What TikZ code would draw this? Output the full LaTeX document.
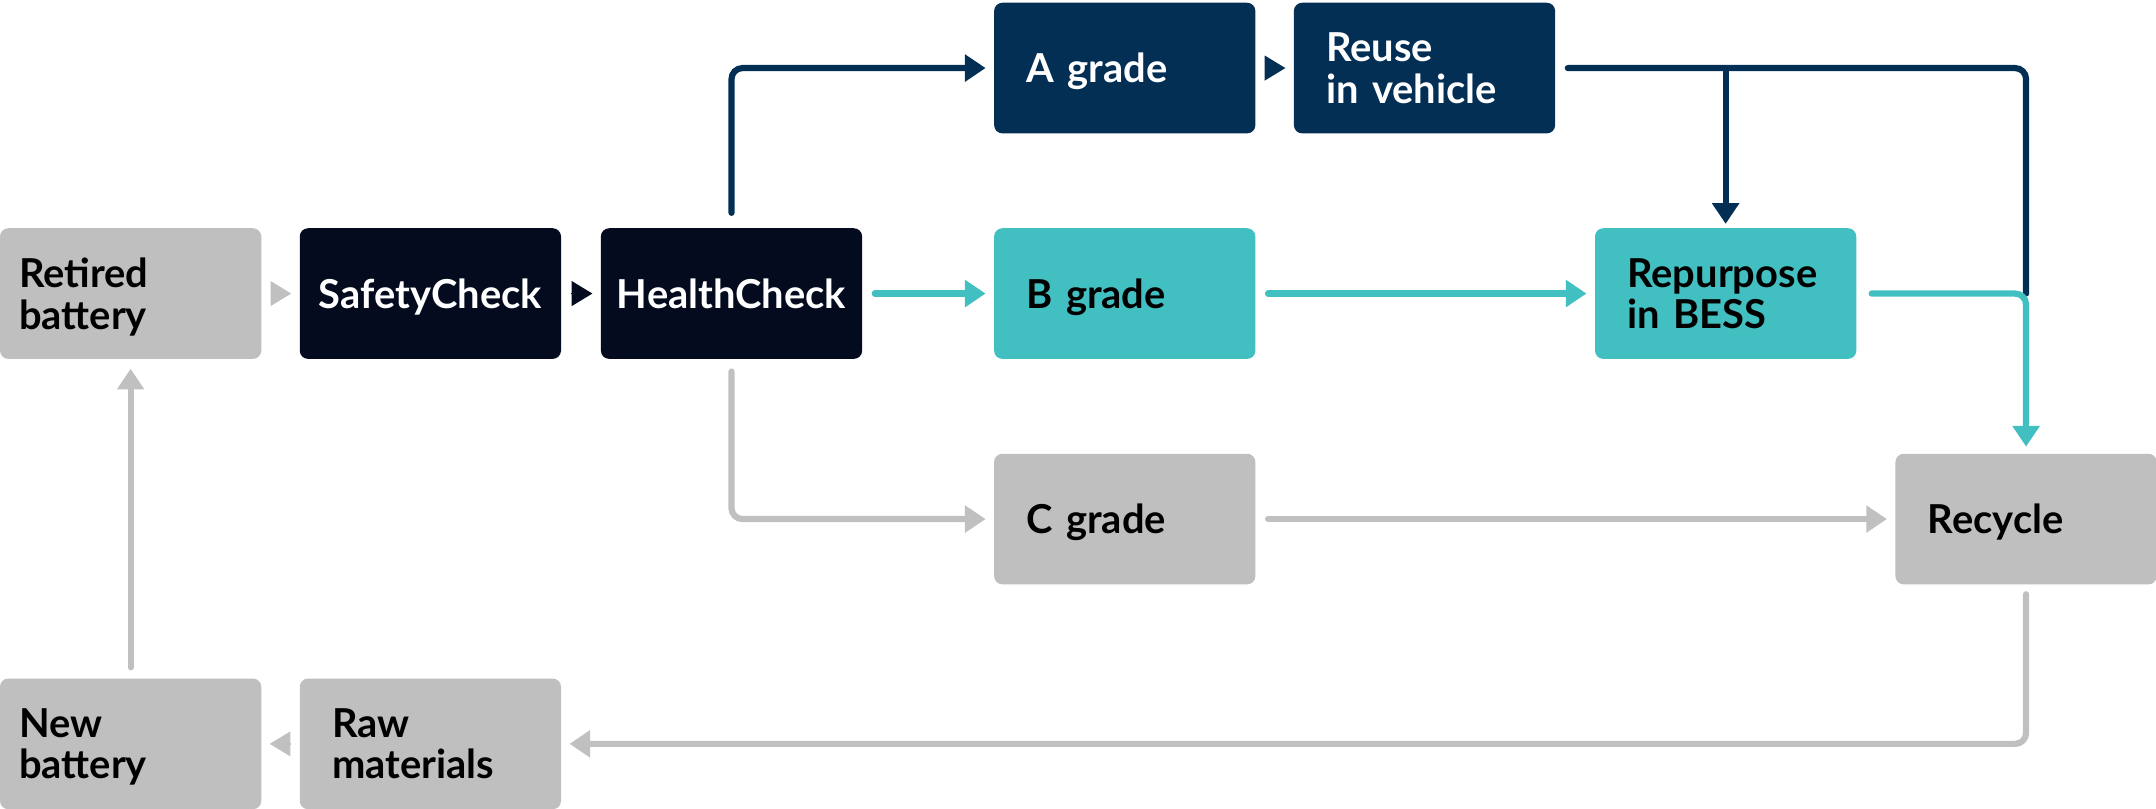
\documentclass[tikz,border=0pt]{standalone}
\usepackage{fontspec}
\setmainfont{Lato}
\usetikzlibrary{arrows.meta}
\definecolor{boxgray}{HTML}{BFBFBF}
\definecolor{lgray}{HTML}{C0C0C0}
\definecolor{darknavy}{HTML}{050B1F}
\definecolor{navy}{HTML}{032F55}
\definecolor{teal}{HTML}{42BFC1}
\tikzset{
  box/.style={rectangle, rounded corners=6pt, minimum height=95pt, minimum width=190pt, inner ysep=0pt,
    text depth=0pt, font=\fontsize{29}{30}\selectfont\bfseries},
  two/.style={text depth=30pt},
  padA/.style={text width=162pt, inner xsep=14pt, align=left},
  padB/.style={text width=143pt, inner xsep=23.5pt, align=left},
  padC/.style={text width=170pt, inner xsep=10pt, align=center},
  gbox/.style={box, fill=boxgray, text=black},
  dbox/.style={box, fill=darknavy, text=white},
  nbox/.style={box, fill=navy, text=white},
  tbox/.style={box, fill=teal, text=black},
  conn/.style={line width=4.5pt, line cap=round, rounded corners=8pt},
  arrG/.style={conn, draw=lgray, -{Triangle[length=15pt,width=19pt]}},
  arrN/.style={conn, draw=navy, -{Triangle[length=15pt,width=19pt]}},
  arrT/.style={conn, draw=teal, -{Triangle[length=15pt,width=19pt]}},
  lineN/.style={conn, draw=navy},
  headonly/.style={line width=1pt, -{Triangle[length=15pt,width=18pt]}, shorten <=7pt, shorten >=6pt},
}
\begin{document}
\begin{tikzpicture}[x=1pt,y=-1pt]
\useasboundingbox (0,0) rectangle (1568,588);
\node[gbox,padA,two] (ret) at (95,213.5) {Retired\\battery};
\node[dbox,padC] (saf) at (313,213.5) {SafetyCheck};
\node[dbox,padC] (hea) at (532,213.5) {HealthCheck};
\node[nbox,padB] (ag) at (818,49.5) {A grade};
\node[nbox,padB,two] (reuse) at (1036,49.5) {Reuse\\in vehicle};
\node[tbox,padB] (bg) at (818,213.5) {B grade};
\node[tbox,padB,two] (rep) at (1255,213.5) {Repurpose\\in BESS};
\node[gbox,padB] (cg) at (818,377.5) {C grade};
\node[gbox,padB] (rec) at (1473.5,377.5) {Recycle};
\node[gbox,padA,two] (new) at (95,541) {New\\battery};
\node[gbox,padB,two] (raw) at (313,541) {Raw\\materials};

% short head-only arrows
\draw[headonly, draw=lgray, fill=lgray] (ret) -- (saf);
\draw[headonly, draw=darknavy, fill=darknavy] (saf) -- (hea);
\draw[headonly, draw=navy, fill=navy] (ag) -- (reuse);
\draw[headonly, draw=lgray, fill=lgray] (raw) -- (new);

% health check branches
\draw[arrN] ([yshift=11pt]hea.north) |- ([xshift=-6pt]ag.west);
\draw[arrT] ([xshift=9pt]hea.east) -- ([xshift=-6pt]bg.west);
\draw[arrG] ([yshift=-9pt]hea.south) |- ([xshift=-6pt]cg.west);

\draw[arrT] ([xshift=9pt]bg.east) -- ([xshift=-6pt]rep.west);
\draw[arrG] ([xshift=9pt]cg.east) -- ([xshift=-6pt]rec.west);

% reuse outputs
\draw[lineN] ([xshift=9pt]reuse.east) -| (rec.north |- rep.east);
\draw[arrN] (rep.north |- reuse.east) -- ([yshift=3pt]rep.north);
% repurpose to recycle
\draw[arrT] ([xshift=11pt]rep.east) -| ([yshift=5pt]rec.north);
% recycle loop
\draw[arrG] ([yshift=-7pt]rec.south) |- ([xshift=6pt]raw.east);
\draw[arrG] ([yshift=8pt]new.north) -- ([yshift=-7pt]ret.south);
\end{tikzpicture}
\end{document}
